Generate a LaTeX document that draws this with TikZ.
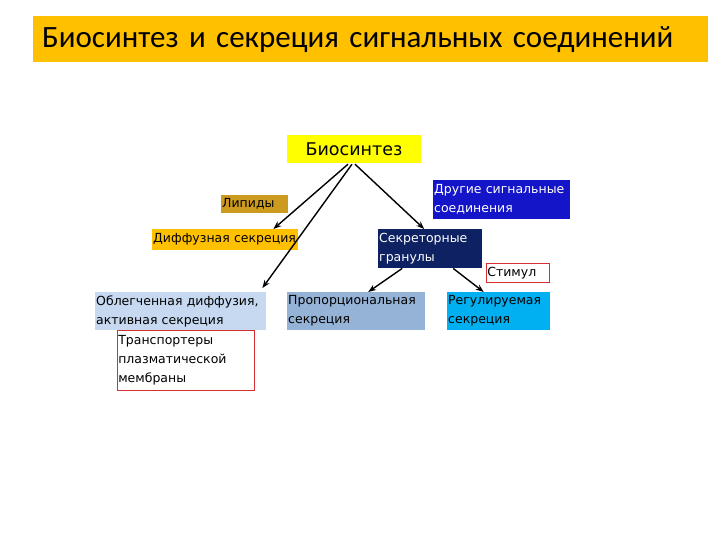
\documentclass[tikz,border=0pt]{standalone}
\usepackage{fontspec}
\setmainfont{DejaVu Sans}
\newfontfamily\titlefont{Carlito}
\usetikzlibrary{arrows.meta,calc}
\definecolor{titlegold}{HTML}{FFC000}
\definecolor{bioyellow}{HTML}{FFFF00}
\definecolor{lipgold}{HTML}{CC9A1E}
\definecolor{othblue}{HTML}{1414C8}
\definecolor{granblue}{HTML}{0D2163}
\definecolor{oblblue}{HTML}{C6D9F1}
\definecolor{propblue}{HTML}{95B3D7}
\definecolor{regblue}{HTML}{00B0F0}
\definecolor{framered}{HTML}{D83030}
\begin{document}
\begin{tikzpicture}[
    x=1pt,y=-1pt,
    every node/.style={font=\fontsize{12.5}{19}\selectfont},
    lbl/.style={anchor=north west, inner xsep=1pt, inner ysep=0pt, align=left},
    redbox/.style={lbl, draw=framered, line width=0.6pt, fill=white},
    arr/.style={line width=1.4pt, -{Stealth[length=8pt,width=6pt]}}
]
    \useasboundingbox (0,0) rectangle (720,540);
    \fill[white] (0,0) rectangle (720,540);

    % title bar
    \node[lbl, fill=titlegold, text width=657pt, minimum height=46pt, inner xsep=9pt,
          font=\titlefont\fontsize{31}{36}\selectfont] (title) at (33,16)
        {Биосинтез и секреция сигнальных соединений};

    % upper level
    \node[fill=bioyellow, minimum width=134pt, minimum height=28pt, inner sep=0pt,
          font=\fontsize{17.5}{20}\selectfont] (bio) at (354,149) {Биосинтез};
    \node[lbl, fill=lipgold, text width=65pt, minimum height=18pt] (lip) at (221,195) {Липиды};
    \node[lbl, fill=titlegold, text width=144pt, minimum height=21pt] (dif) at (152,229) {Диффузная секреция};
    \node[lbl, fill=othblue, text=white, text width=135pt, minimum height=39pt] (oth) at (433,180)
        {Другие сигнальные\\соединения};
    \node[lbl, fill=granblue, text=white, text width=102pt, minimum height=39pt] (gran) at (378,229)
        {Секреторные\\гранулы};
    \node[redbox, text width=61pt, minimum height=19pt] (stim) at (486,263) {Стимул};

    % lower level
    \node[lbl, fill=oblblue, text width=169pt, minimum height=38pt] (obl) at (95,292)
        {Облегченная диффузия,\\активная секреция};
    \node[redbox, text width=135pt, minimum height=60pt] (trans) at (117,330)
        {Транспортеры\\плазматической\\мембраны};
    \node[lbl, fill=propblue, text width=136pt, minimum height=38pt] (prop) at (287,292)
        {Пропорциональная\\секреция};
    \node[lbl, fill=regblue, text width=101pt, minimum height=38pt] (reg) at (447,292)
        {Регулируемая\\секреция};

    % connectors
    \draw[arr] ($(bio.south)+(-6,1)$) -- ($(dif.north east)+(-25,0)$);
    \draw[arr] ($(bio.south)+(-2,1)$) -- ($(obl.north east)+(-4,-4)$);
    \draw[arr] ($(bio.south)+(1,1)$) -- ($(gran.north)+(-6,0)$);
    \draw[arr] ($(gran.south)+(-28,0)$) -- ($(prop.north)+(12,0)$);
    \draw[arr] ($(gran.south)+(23,0)$) -- ($(reg.north)+(-15,0)$);
\end{tikzpicture}
\end{document}
